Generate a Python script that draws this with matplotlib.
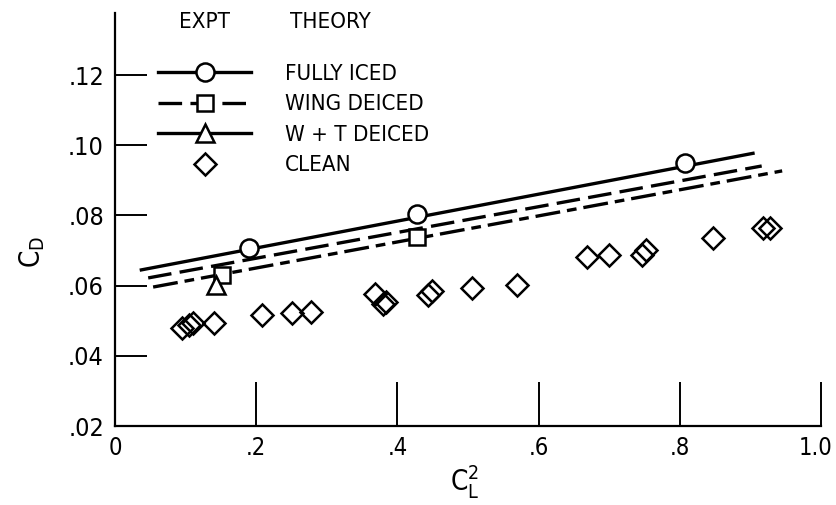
import matplotlib
matplotlib.use('Agg')
import matplotlib.pyplot as plt
import matplotlib.transforms as mtransforms
from matplotlib.lines import Line2D

plt.rcParams['font.family'] = ['Liberation Sans Narrow', 'DejaVu Sans']
plt.rcParams['font.stretch'] = 'condensed'
plt.rcParams['mathtext.default'] = 'regular'
plt.rcParams['lines.scale_dashes'] = False

# theory lines, end points
theory_cl2_fully = [0.035, 0.906]
theory_cd_fully = [0.0644, 0.0978]
theory_cl2_wing = [0.047, 0.916]
theory_cd_wing = [0.0622, 0.0941]
theory_cl2_wt = [0.054, 0.945]
theory_cd_wt = [0.0596, 0.0927]

# experiment points
expt_cl2_fully = [0.190, 0.428, 0.807]
expt_cd_fully = [0.0707, 0.0804, 0.0949]
expt_cl2_wing = [0.152, 0.428]
expt_cd_wing = [0.0630, 0.0738]
expt_cl2_wt = [0.143]
expt_cd_wt = [0.0602]
clean_cl2 = [0.095, 0.105, 0.110, 0.140, 0.208, 0.251, 0.278, 0.368, 0.379, 0.384,
             0.443, 0.449, 0.506, 0.569, 0.669, 0.700, 0.746, 0.752, 0.847, 0.918, 0.928]
clean_cd = [0.0479, 0.0488, 0.0493, 0.0493, 0.0516, 0.0522, 0.0525, 0.0576, 0.0548, 0.0554,
            0.0573, 0.0584, 0.0593, 0.0602, 0.0681, 0.0687, 0.0687, 0.0701, 0.0736, 0.0764, 0.0764]

xticks = [0, 0.2, 0.4, 0.6, 0.8, 1.0]
xtick_labels = ['0', '.2', '.4', '.6', '.8', '1.0']
yticks = [0.02, 0.04, 0.06, 0.08, 0.10, 0.12]
ytick_labels = ['.02', '.04', '.06', '.08', '.10', '.12']

W, H = 837, 505
fig = plt.figure(figsize=(W / 100, H / 100), dpi=100)
ax = fig.add_axes([115 / W, 1 - 426 / H, 706 / W, 413 / H])

lw = 2.4
mew = 1.8
dash_long = (0, (17, 6))
dash_dot = (0, (18, 5, 7, 5))

ax.plot(theory_cl2_fully, theory_cd_fully, color='black', lw=lw, solid_capstyle='butt')
ax.plot(theory_cl2_wing, theory_cd_wing, color='black', lw=lw, linestyle=dash_long, dash_capstyle='butt')
ax.plot(theory_cl2_wt, theory_cd_wt, color='black', lw=lw, linestyle=dash_dot, dash_capstyle='butt')

mk = dict(color='black', mfc='white', mec='black', mew=mew, linestyle='none', zorder=3)
ax.plot(expt_cl2_fully, expt_cd_fully, marker='o', ms=13, **mk)
ax.plot(expt_cl2_wing, expt_cd_wing, marker='s', ms=12, **mk)
ax.plot(expt_cl2_wt, expt_cd_wt, marker='^', ms=13, **mk)
ax.plot(clean_cl2, clean_cd, marker='D', ms=11, mfc='none', mec='black', mew=mew,
        linestyle='none', zorder=3)

ax.set_xlim(0, 1.0)
ax.set_ylim(0.02, 0.1377)
ax.set_xticks(xticks)
ax.set_xticklabels(xtick_labels)
ax.set_yticks(yticks)
ax.set_yticklabels(ytick_labels)
ax.tick_params(axis='y', direction='in', length=23, width=1.4, labelsize=18, pad=8)
ax.tick_params(axis='x', direction='in', length=32, width=1.4, labelsize=17, pad=7)
for side in ['top', 'right']:
    ax.spines[side].set_visible(False)
for side in ['left', 'bottom']:
    ax.spines[side].set_linewidth(1.6)

# nudge the "1.0" label a bit left so it stays inside the figure
last = ax.get_xticklabels()[-1]
last.set_transform(last.get_transform() + mtransforms.ScaledTranslation(-5 / 100, 0, fig.dpi_scale_trans))

fig.text(32 / W, 1 - 252 / H, r'$C_D$', rotation=90, ha='center', va='center', fontsize=20)
fig.text(465 / W, 1 - 482 / H, r'$C_L^2$', ha='center', va='center', fontsize=20)

# legend
handles = [
    Line2D([], [], color='black', lw=lw, marker='o', ms=13, mfc='white', mew=mew),
    Line2D([], [], color='black', lw=lw, linestyle=dash_long, marker='s', ms=12, mfc='white', mew=mew),
    Line2D([], [], color='black', lw=lw, marker='^', ms=13, mfc='white', mew=mew),
    Line2D([], [], color='black', linestyle='none', marker='D', ms=11, mfc='white', mew=mew),
]
labels = ['FULLY ICED', 'WING DEICED', 'W + T DEICED', 'CLEAN']
ax.legend(handles, labels, loc='upper left', bbox_to_anchor=(158 / W, 1 - 64 / H),
          bbox_transform=fig.transFigure, frameon=False, borderpad=0, borderaxespad=0,
          handlelength=4.2, handletextpad=1.5, labelspacing=0.47, fontsize=16, numpoints=1)
fig.text(205 / W, 1 - 22 / H, 'EXPT', ha='center', va='center', fontsize=16)
fig.text(330 / W, 1 - 22 / H, 'THEORY', ha='center', va='center', fontsize=16)

fig.savefig('out.png', dpi=100)
